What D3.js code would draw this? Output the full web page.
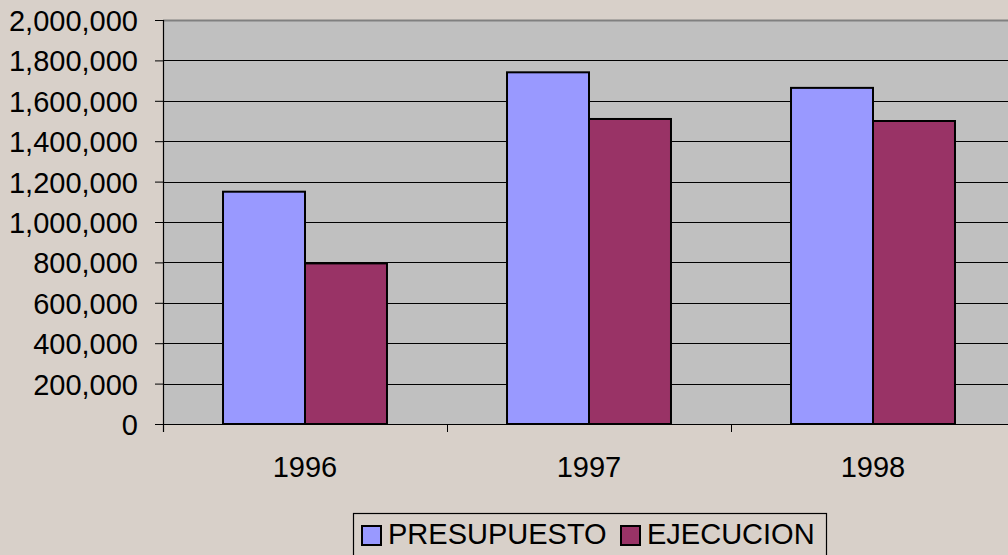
<!DOCTYPE html>
<html>
<head>
<meta charset="utf-8">
<script src="https://cdn.jsdelivr.net/npm/d3@7"></script>
<style>
  html, body { margin: 0; padding: 0; background: #d8d0c9; overflow: hidden; }
  svg { display: block; font-family: Arial, 'Liberation Sans', sans-serif; }
</style>
</head>
<body>
<div id="chart"></div>
<script>
const chartWidth = 1008
const chartHeight = 555
const fontSize = 29

// data
const years = ['1996', '1997', '1998']
const seriesNames = ['PRESUPUESTO', 'EJECUCION']
const presupuesto = [1150000, 1741000, 1664000]
const ejecucion = [795000, 1510000, 1500000]
const yTicks = [0, 200000, 400000, 600000, 800000, 1000000, 1200000, 1400000, 1600000, 1800000, 2000000]

const colors = { PRESUPUESTO: '#9999ff', EJECUCION: '#993366' }

const plot = { left: 163, top: 20, bottom: 424, right: 163 + 3 * 284 }

const svg = d3
  .select('#chart')
  .append('svg')
  .attr('width', chartWidth)
  .attr('height', chartHeight)

const x = d3.scaleBand().domain(years).range([plot.left, plot.right]).padding(0)
const xs = d3.scaleBand().domain(seriesNames).range([0, x.bandwidth()]).paddingInner(0).paddingOuter(0.732)
const y = d3.scaleLinear().domain([0, 2000000]).range([plot.bottom, plot.top])

// plot area
svg
  .append('rect')
  .attr('x', plot.left)
  .attr('y', plot.top)
  .attr('width', plot.right - plot.left)
  .attr('height', plot.bottom - plot.top)
  .attr('fill', '#c0c0c0')

// gridlines
svg
  .append('g')
  .selectAll('line')
  .data(yTicks.slice(1, -1))
  .enter()
  .append('line')
  .attr('x1', plot.left)
  .attr('x2', plot.right)
  .attr('y1', d => Math.round(y(d)) + 0.5)
  .attr('y2', d => Math.round(y(d)) + 0.5)
  .attr('stroke', '#000')
  .attr('stroke-width', 1)

// top border
svg
  .append('line')
  .attr('x1', plot.left)
  .attr('x2', plot.right)
  .attr('y1', plot.top + 0.5)
  .attr('y2', plot.top + 0.5)
  .attr('stroke', '#808080')
  .attr('stroke-width', 2)

// bars
const rows = years.map((yr, i) => ({ year: yr, PRESUPUESTO: presupuesto[i], EJECUCION: ejecucion[i] }))

svg
  .append('g')
  .selectAll('g')
  .data(rows)
  .enter()
  .append('g')
  .attr('transform', d => `translate(${x(d.year)},0)`)
  .selectAll('rect')
  .data(d => seriesNames.map(s => ({ key: s, value: d[s] })))
  .enter()
  .append('rect')
  .attr('x', d => xs(d.key))
  .attr('y', d => y(d.value))
  .attr('width', xs.bandwidth())
  .attr('height', d => plot.bottom - y(d.value))
  .attr('fill', d => colors[d.key])
  .attr('stroke', '#000')
  .attr('stroke-width', 2)

// y axis
const yAxis = d3
  .axisLeft(y)
  .tickValues(yTicks)
  .tickFormat(d3.format(','))
  .tickSize(8)
  .tickPadding(17)

const yg = svg
  .append('g')
  .attr('transform', `translate(${plot.left},0)`)
  .call(yAxis)
yg.select('.domain').remove()
yg.selectAll('.tick line').attr('stroke', '#000')
yg.selectAll('.tick text')
  .attr('font-size', fontSize)
  .attr('font-family', 'Arial, Liberation Sans, sans-serif')
  .attr('fill', '#000')
  .attr('dy', '0.36em')

svg
  .append('line')
  .attr('x1', plot.left + 0.5)
  .attr('x2', plot.left + 0.5)
  .attr('y1', plot.top)
  .attr('y2', plot.bottom + 8)
  .attr('stroke', '#000')
  .attr('stroke-width', 1.2)

// x axis
svg
  .append('line')
  .attr('x1', plot.left - 8)
  .attr('x2', plot.right)
  .attr('y1', plot.bottom + 0.5)
  .attr('y2', plot.bottom + 0.5)
  .attr('stroke', '#000')
  .attr('stroke-width', 1.2)

svg
  .append('g')
  .selectAll('line')
  .data(years.slice(1))
  .enter()
  .append('line')
  .attr('x1', d => x(d) + 0.5)
  .attr('x2', d => x(d) + 0.5)
  .attr('y1', plot.bottom)
  .attr('y2', plot.bottom + 8)
  .attr('stroke', '#000')

svg
  .append('g')
  .selectAll('text')
  .data(years)
  .enter()
  .append('text')
  .attr('x', d => x(d) + x.bandwidth() / 2)
  .attr('y', 477)
  .attr('text-anchor', 'middle')
  .attr('font-size', fontSize)
  .attr('fill', '#000')
  .text(d => d)

// legend
const legend = svg.append('g')
legend
  .append('rect')
  .attr('x', 353.5)
  .attr('y', 513.5)
  .attr('width', 473)
  .attr('height', 60)
  .attr('fill', 'none')
  .attr('stroke', '#000')
  .attr('stroke-width', 1.2)

const legendItems = [
  { key: 'PRESUPUESTO', sx: 362, tx: 388 },
  { key: 'EJECUCION', sx: 621, tx: 647 },
]

legend
  .selectAll('rect.sw')
  .data(legendItems)
  .enter()
  .append('rect')
  .attr('class', 'sw')
  .attr('x', d => d.sx)
  .attr('y', 526)
  .attr('width', 19)
  .attr('height', 19)
  .attr('fill', d => colors[d.key])
  .attr('stroke', '#000')
  .attr('stroke-width', 2)

legend
  .selectAll('text')
  .data(legendItems)
  .enter()
  .append('text')
  .attr('x', d => d.tx)
  .attr('y', 544)
  .attr('font-size', fontSize)
  .attr('fill', '#000')
  .text(d => d.key)
</script>
</body>
</html>
